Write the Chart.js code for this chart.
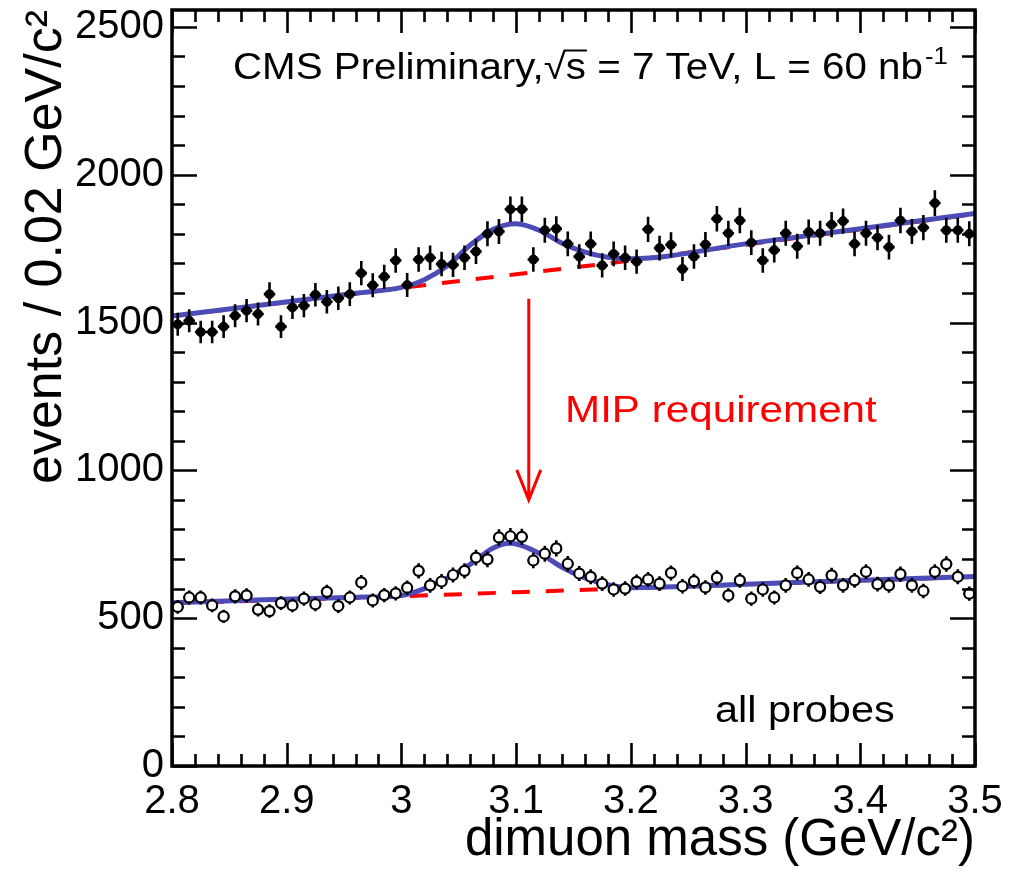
<!DOCTYPE html>
<html><head><meta charset="utf-8">
<script src="https://cdn.jsdelivr.net/npm/chart.js@4/dist/chart.umd.min.js"></script>
<style>html,body{margin:0;padding:0;background:#fff;} canvas{display:block;}</style>
</head><body>
<canvas id="c" width="1017" height="872"></canvas>
<script>
// ---- data ----
const massBins = [
  2.805,2.815,2.825,2.835,2.845,2.855,2.865,2.875,2.885,2.895,
  2.905,2.915,2.925,2.935,2.945,2.955,2.965,2.975,2.985,2.995,
  3.005,3.015,3.025,3.035,3.045,3.055,3.065,3.075,3.085,3.095,
  3.105,3.115,3.125,3.135,3.145,3.155,3.165,3.175,3.185,3.195,
  3.205,3.215,3.225,3.235,3.245,3.255,3.265,3.275,3.285,3.295,
  3.305,3.315,3.325,3.335,3.345,3.355,3.365,3.375,3.385,3.395,
  3.405,3.415,3.425,3.435,3.445,3.455,3.465,3.475,3.485,3.495];
const allEvents = [
  1494,1506,1468,1468,1486,1523,1540,1529,1596,1486,
  1551,1557,1594,1570,1582,1596,1667,1626,1655,1710,
  1627,1713,1719,1698,1695,1719,1740,1800,1808,1883,
  1883,1713,1812,1817,1766,1723,1766,1693,1732,1719,
  1706,1815,1752,1763,1681,1723,1764,1851,1802,1845,
  1770,1710,1745,1802,1758,1806,1802,1831,1843,1766,
  1802,1787,1755,1845,1808,1821,1904,1812,1812,1800];
const mipEvents = [
  538,570,570,543,506,574,577,529,524,551,
  543,566,547,589,541,570,621,560,578,584,
  603,660,611,624,646,660,705,699,773,777,
  775,695,718,736,684,651,640,617,597,600,
  623,631,617,653,608,625,604,637,577,628,
  566,597,570,611,653,631,606,645,611,628,
  657,615,611,649,611,592,657,683,640,583];

const upperFitMass = [2.80,2.88,2.96,3.00,3.02,3.04,3.06,3.08,3.10,3.12,3.14,3.16,3.18,3.20,3.30,3.40,3.50];
const upperFit     = [1522,1560,1599,1619,1645,1692,1762,1815,1834,1812,1768,1738,1721,1716,1766,1817,1869];
const lowerFitMass = [2.80,2.88,2.96,3.00,3.02,3.04,3.06,3.08,3.095,3.11,3.125,3.14,3.16,3.18,3.20,3.30,3.40,3.50];
const lowerFit     = [552,562,571,577,600,636,682,737,753,738,709,672,636,613,603,615,628,641];
const bgMass   = [2.80,2.90,3.00,3.10,3.20,3.30,3.40,3.50];
const upperBg  = [1521,1569,1617,1663,1710,1763,1815,1867];
const lowerBg  = [551,562,574,588,601,614,627,640];

const xTickValues = [2.8,2.9,3.0,3.1,3.2,3.3,3.4,3.5];
const xTickLabels = ['2.8','2.9','3','3.1','3.2','3.3','3.4','3.5'];
const yTickValues = [0,500,1000,1500,2000,2500];
const yTickLabels = ['0','500','1000','1500','2000','2500'];
const xRange = [2.8, 3.5];
const yRange = [0, 2557];

const arrowX = 3.111, arrowFrom = 1580, arrowTo = 900;

// ---- styles ----
const FONT = '"Liberation Sans", Arial, Helvetica, sans-serif';
const BLUE = 'rgb(76,76,184)';
const RED = '#ff0000';

const pts = (xs, ys) => xs.map((v, i) => ({x: v, y: ys[i]}));

const errorBars = {
  id: 'errorBars',
  beforeDatasetDraw(chart, args) {
    const ds = chart.data.datasets[args.index];
    if (!ds.errorBars) return;
    const {ctx, scales: {x, y}} = chart;
    ctx.save();
    ctx.strokeStyle = '#000';
    ctx.lineWidth = 2.6;
    ctx.beginPath();
    ds.data.forEach(p => {
      const e = Math.sqrt(p.y);
      const px = x.getPixelForValue(p.x);
      const py = y.getPixelForValue(p.y);
      ctx.moveTo(px, y.getPixelForValue(p.y + e));
      ctx.lineTo(px, y.getPixelForValue(p.y - e));
      ctx.moveTo(x.getPixelForValue(p.x - 0.005), py);
      ctx.lineTo(x.getPixelForValue(p.x + 0.005), py);
    });
    ctx.stroke();
    ctx.restore();
  }
};

const frame = {
  id: 'frame',
  afterDatasetsDraw(chart) {
    const {ctx, chartArea: a, scales: {x, y}} = chart;
    ctx.save();
    ctx.strokeStyle = '#000';
    ctx.lineWidth = 2.6;
    ctx.beginPath();
    const xmin = xRange[0], xmax = xRange[1];
    const nx = Math.round((xmax - xmin) / 0.02);
    for (let k = 0; k <= nx; k++) {
      const px = Math.round(x.getPixelForValue(xmin + k * 0.02)) + 0.5;
      const len = (k % 5 === 0) ? 23 : 12;
      ctx.moveTo(px, a.bottom); ctx.lineTo(px, a.bottom - len);
      ctx.moveTo(px, a.top); ctx.lineTo(px, a.top + len);
    }
    for (let v = 0; v <= 2500; v += 100) {
      const py = Math.round(y.getPixelForValue(v)) + 0.5;
      const len = (v % 500 === 0) ? 25 : 13;
      ctx.moveTo(a.left, py); ctx.lineTo(a.left + len, py);
      ctx.moveTo(a.right, py); ctx.lineTo(a.right - len, py);
    }
    ctx.stroke();
    ctx.lineWidth = 3.5;
    ctx.strokeRect(a.left, a.top, a.right - a.left, a.bottom - a.top);
    ctx.restore();
  }
};

// draw text with a slight horizontal stretch, as in the reference
function wideText(ctx, t, x, y, sx) {
  ctx.save();
  ctx.translate(x, y);
  ctx.scale(sx, 1);
  ctx.fillText(t, 0, 0);
  const w = ctx.measureText(t).width * sx;
  ctx.restore();
  return w;
}

const annotations = {
  id: 'annotations',
  afterDraw(chart) {
    const {ctx, scales: {x, y}} = chart;
    ctx.save();
    ctx.textAlign = 'left';
    ctx.textBaseline = 'alphabetic';
    ctx.fillStyle = '#000';
    const S = 1.12;
    // CMS label
    ctx.font = '36px ' + FONT;
    let cx = 233; const by = 79;
    const seg = t => { cx += wideText(ctx, t, cx, by, S); };
    seg('CMS Preliminary,');
    seg('\u221A');
    const sx = cx;
    seg('s');
    ctx.strokeStyle = '#000'; ctx.lineWidth = 2;
    ctx.beginPath(); ctx.moveTo(sx - 2, by - 28.5); ctx.lineTo(cx + 1, by - 28.5); ctx.stroke();
    seg(' = 7 TeV, L = 60 nb');
    ctx.font = '23px ' + FONT;
    wideText(ctx, '-1', cx + 2, by - 15, S);

    // MIP requirement
    ctx.font = '37px ' + FONT;
    ctx.fillStyle = RED;
    wideText(ctx, 'MIP requirement', 565, 422, 1.14);
    // arrow
    const ax = x.getPixelForValue(arrowX);
    const ay0 = y.getPixelForValue(arrowFrom), ay1 = y.getPixelForValue(arrowTo);
    ctx.strokeStyle = RED; ctx.lineWidth = 3;
    ctx.beginPath();
    ctx.moveTo(ax, ay0); ctx.lineTo(ax, ay1);
    ctx.moveTo(ax - 12, ay1 - 30); ctx.lineTo(ax, ay1); ctx.lineTo(ax + 12, ay1 - 30);
    ctx.stroke();

    // all probes
    ctx.fillStyle = '#000';
    ctx.font = '37px ' + FONT;
    wideText(ctx, 'all probes', 715, 722, 1.12);
    ctx.restore();
  }
};

new Chart(document.getElementById('c'), {
  type: 'line',
  data: {
    datasets: [
      { label: 'all probes', data: pts(massBins, allEvents), showLine: false,
        errorBars: true, pointStyle: 'circle', pointRadius: 4.5,
        pointBackgroundColor: '#000', pointBorderColor: '#000', pointBorderWidth: 1 },
      { label: 'MIP', data: pts(massBins, mipEvents), showLine: false,
        errorBars: true, pointStyle: 'circle', pointRadius: 5,
        pointBackgroundColor: '#fff', pointBorderColor: '#000', pointBorderWidth: 2.2 },
      { label: 'fit all', data: pts(upperFitMass, upperFit), borderColor: BLUE, borderWidth: 5,
        pointRadius: 0, cubicInterpolationMode: 'monotone', fill: false },
      { label: 'fit MIP', data: pts(lowerFitMass, lowerFit), borderColor: BLUE, borderWidth: 5,
        pointRadius: 0, cubicInterpolationMode: 'monotone', fill: false },
      { label: 'bg all', data: pts(bgMass, upperBg), borderColor: RED, borderWidth: 4,
        borderDash: [18, 16], pointRadius: 0, cubicInterpolationMode: 'monotone', fill: false },
      { label: 'bg MIP', data: pts(bgMass, lowerBg), borderColor: RED, borderWidth: 4,
        borderDash: [18, 16], pointRadius: 0, cubicInterpolationMode: 'monotone', fill: false }
    ]
  },
  options: {
    responsive: false,
    animation: false,
    events: [],
    layout: { padding: { left: 0, right: 42, top: 10, bottom: 0 } },
    plugins: { legend: { display: false }, tooltip: { enabled: false } },
    scales: {
      x: {
        type: 'linear', min: xRange[0], max: xRange[1], bounds: 'data',
        grid: { display: false, drawTicks: false },
        border: { display: false },
        afterBuildTicks: s => { s.ticks = xTickValues.map(v => ({value: v})); s.min = xRange[0]; s.max = xRange[1]; },
        afterFit: s => { s.height = 106; s.paddingLeft = 0; s.paddingRight = 0; },
        ticks: { padding: 12, color: '#000', font: { family: FONT, size: 40 },
          maxRotation: 0, autoSkip: false,
          callback: (v, i) => xTickLabels[i] },
        title: { display: true, text: 'dimuon mass (GeV/c\u00B2)', align: 'end', color: '#000',
          font: { family: FONT, size: 51 }, padding: { top: 0, bottom: 0 } }
      },
      y: {
        type: 'linear', min: yRange[0], max: yRange[1], bounds: 'data',
        grid: { display: false, drawTicks: false },
        border: { display: false },
        afterBuildTicks: s => { s.ticks = yTickValues.map(v => ({value: v})); s.min = yRange[0]; s.max = yRange[1]; },
        afterFit: s => { s.width = 172; s.paddingTop = 0; s.paddingBottom = 0; },
        ticks: { padding: 8, color: '#000', font: { family: FONT, size: 40 },
          autoSkip: false, callback: (v, i) => yTickLabels[i] },
        title: { display: true, text: 'events / 0.02 GeV/c\u00B2', align: 'end', color: '#000',
          font: { family: FONT, size: 52 }, padding: { top: 15, bottom: 0 } }
      }
    }
  },
  plugins: [errorBars, frame, annotations]
});
</script>
</body></html>
